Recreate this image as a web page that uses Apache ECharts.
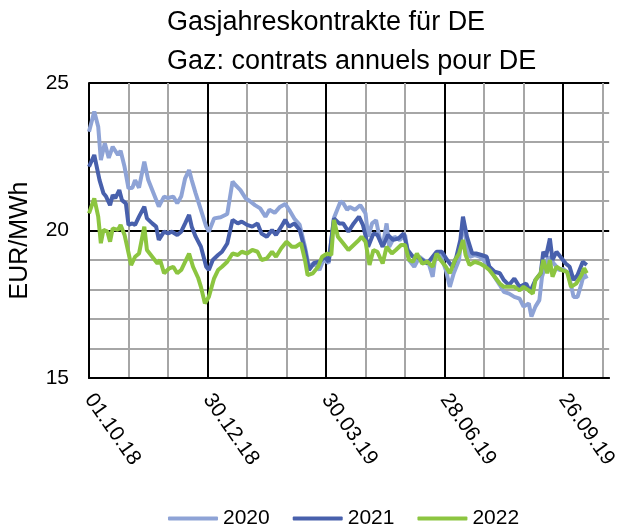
<!DOCTYPE html>
<html>
<head>
<meta charset="UTF-8">
<title>Gasjahreskontrakte für DE</title>
<script src="https://cdn.jsdelivr.net/npm/echarts@6/dist/echarts.min.js"></script>
</head>
<body style="margin:0">
<div id="main" style="width:620px;height:529px;"></div>
<script>
// Tage seit dem 01.10.18 / Preise in EUR/MWh
var days2020 = [0, 4, 7, 9, 12, 15, 18, 22, 24, 27, 30, 33, 35, 38, 42, 45, 49, 53, 57, 60, 64, 67, 70, 73, 76, 78, 81, 85, 89, 91, 95, 100, 105, 109, 111, 115, 119, 122, 126, 130, 134, 137, 141, 145, 149, 152, 156, 160, 164, 167, 171, 175, 178, 182, 186, 191, 193, 196, 198, 202, 206, 210, 212, 215, 218, 221, 223, 226, 228, 232, 236, 240, 243, 247, 251, 254, 258, 261, 263, 267, 271, 274, 277, 281, 284, 286, 289, 293, 297, 301, 304, 308, 312, 315, 319, 323, 327, 330, 334, 336, 339, 342, 344, 347, 349, 353, 357, 360, 364, 368, 371, 374, 376, 378];
var vals2020 = [23.35, 24.03, 23.52, 22.39, 22.96, 22.46, 22.84, 22.56, 22.7, 22.16, 21.43, 21.45, 21.71, 21.45, 22.33, 21.71, 21.26, 20.81, 21.15, 21.1, 21.15, 20.92, 21.15, 21.77, 22.05, 21.71, 21.26, 20.7, 20.13, 19.96, 20.41, 20.45, 20.56, 21.66, 21.55, 21.37, 21.09, 21.0, 20.86, 20.75, 20.47, 20.7, 20.6, 20.8, 20.9, 20.7, 20.4, 20.19, 19.45, 18.77, 18.9, 18.66, 19.0, 18.9, 20.42, 20.98, 20.93, 20.7, 20.8, 20.7, 20.86, 20.58, 19.79, 20.24, 20.35, 19.68, 19.45, 20.24, 19.45, 19.79, 19.68, 19.85, 19.0, 18.77, 19.11, 19.0, 18.88, 18.43, 19.11, 19.17, 18.66, 18.09, 18.55, 19.0, 20.36, 19.79, 19.11, 19.17, 19.11, 18.94, 18.77, 18.43, 18.15, 17.92, 17.86, 17.75, 17.69, 17.42, 17.53, 17.08, 17.42, 17.64, 18.43, 18.88, 19.11, 18.88, 18.66, 18.7, 18.55, 17.75, 17.75, 18.2, 18.55, 18.37];

var days2021 = [0, 4, 8, 11, 13, 16, 18, 20, 23, 25, 28, 30, 33, 35, 38, 42, 44, 48, 51, 53, 57, 60, 63, 67, 70, 73, 76, 78, 81, 85, 89, 91, 94, 98, 101, 105, 109, 113, 116, 120, 124, 128, 131, 135, 139, 142, 146, 149, 152, 156, 160, 164, 167, 171, 175, 179, 182, 186, 190, 193, 197, 201, 205, 208, 212, 216, 219, 223, 227, 231, 235, 239, 242, 246, 249, 253, 257, 261, 264, 268, 272, 276, 279, 282, 284, 287, 291, 294, 298, 302, 304, 308, 312, 315, 319, 323, 327, 332, 335, 339, 343, 345, 347, 350, 352, 355, 358, 362, 365, 368, 371, 375, 378];
var vals2021 = [22.16, 22.56, 21.71, 21.26, 21.15, 20.86, 21.2, 21.1, 21.37, 21.03, 20.92, 20.19, 20.24, 20.19, 20.47, 20.81, 20.41, 20.24, 20.13, 19.68, 19.96, 19.9, 19.96, 19.85, 19.96, 20.24, 20.53, 20.13, 19.79, 19.45, 18.77, 18.66, 19.0, 19.17, 19.28, 19.56, 20.36, 20.24, 20.3, 20.19, 20.13, 20.24, 19.9, 19.79, 20.02, 19.85, 20.13, 20.36, 20.13, 20.24, 20.02, 19.34, 18.66, 18.9, 18.94, 19.11, 18.94, 20.41, 20.24, 20.24, 19.96, 20.24, 20.47, 20.19, 19.45, 19.9, 19.85, 19.45, 19.85, 19.68, 19.73, 19.9, 19.34, 19.11, 19.11, 19.0, 18.88, 19.11, 19.28, 19.28, 19.0, 18.77, 19.11, 19.68, 20.47, 19.79, 19.22, 19.22, 19.17, 19.11, 18.77, 18.6, 18.55, 18.32, 18.15, 18.37, 18.09, 18.2, 17.92, 18.32, 18.55, 19.28, 19.11, 19.73, 19.0, 19.28, 19.11, 18.88, 18.77, 18.32, 18.49, 18.94, 18.83];

var days2022 = [0, 4, 7, 9, 11, 14, 16, 18, 22, 24, 27, 29, 32, 35, 38, 42, 44, 48, 52, 54, 57, 61, 64, 67, 70, 73, 76, 79, 83, 85, 88, 91, 95, 98, 101, 105, 109, 113, 116, 120, 124, 128, 131, 135, 139, 142, 146, 150, 154, 157, 161, 164, 166, 170, 174, 177, 181, 184, 186, 189, 193, 197, 201, 205, 207, 210, 213, 216, 219, 223, 226, 230, 233, 237, 240, 243, 246, 249, 253, 257, 261, 264, 267, 271, 274, 278, 281, 284, 286, 289, 293, 297, 301, 304, 308, 312, 315, 319, 323, 327, 330, 334, 337, 339, 343, 345, 348, 350, 352, 355, 359, 363, 366, 370, 374, 376, 378];
var vals2022 = [20.58, 21.09, 20.47, 19.57, 20.02, 19.96, 19.62, 20.07, 20.02, 20.19, 19.85, 19.45, 18.83, 19.11, 19.22, 20.13, 19.34, 19.11, 18.88, 19.0, 18.55, 18.72, 18.77, 18.55, 18.66, 18.94, 19.22, 18.77, 18.38, 18.09, 17.53, 17.75, 18.38, 18.66, 18.77, 18.94, 19.22, 19.17, 19.28, 19.22, 19.34, 19.28, 19.0, 19.05, 19.28, 19.11, 19.4, 19.62, 19.45, 19.45, 19.57, 19.0, 18.49, 18.55, 18.77, 19.11, 19.22, 19.17, 20.36, 19.79, 19.57, 19.34, 19.51, 19.68, 19.79, 19.62, 18.83, 19.34, 19.28, 18.88, 19.45, 19.22, 19.34, 19.51, 19.51, 19.0, 18.94, 19.22, 18.88, 18.94, 18.77, 19.22, 19.0, 18.77, 18.55, 19.0, 19.22, 19.68, 19.17, 18.83, 18.94, 18.88, 18.77, 18.66, 18.43, 18.2, 18.09, 18.09, 18.09, 17.97, 18.09, 17.97, 17.86, 18.32, 18.55, 19.0, 18.55, 19.0, 18.43, 18.77, 18.66, 18.6, 18.09, 18.2, 18.49, 18.72, 18.55];

var tickLabels = ['01.10.18', '30.12.18', '30.03.19', '28.06.19', '26.09.19'];
var seriesNames = ['2020', '2021', '2022'];
var colors = ['#8EA3D6', '#4860AC', '#8CC540'];

function pairs(d, v) {
    return d.map(function (x, i) { return [x, v[i]]; });
}

var myChart = echarts.init(document.getElementById('main'));
var font = 'Liberation Sans';

var option = {
    animation: false,
    textStyle: { fontFamily: font },
    color: colors,
    title: {
        text: 'Gasjahreskontrakte für DE\nGaz: contrats annuels pour DE',
        left: 162,
        top: -2,
        textStyle: { fontSize: 27, fontWeight: 'normal', color: '#000', lineHeight: 39, fontFamily: font }
    },
    legend: {
        left: 163,
        top: 503,
        icon: 'roundRect',
        itemWidth: 50,
        itemHeight: 4,
        itemGap: 23,
        textStyle: { fontSize: 21, color: '#000', fontFamily: font },
        data: seriesNames
    },
    grid: { left: 86, right: 5, top: 83, bottom: 151 },
    xAxis: [
        {
            type: 'value', min: 0, max: 395, interval: 30, position: 'bottom',
            axisLine: { show: false }, axisTick: { show: false }, axisLabel: { show: false },
            splitLine: { show: true, showMaxLine: false, lineStyle: { color: '#A6A6A6', width: 2 } }
        },
        {
            type: 'value', min: 0, max: 395, interval: 90, position: 'bottom',
            axisLine: { show: true, lineStyle: { color: '#000', width: 2 } },
            axisTick: { show: false },
            axisLabel: {
                rotate: -55, margin: 18, fontSize: 21, color: '#000', showMaxLabel: false,
                formatter: function (v) { return tickLabels[v / 90] || ''; }
            },
            splitLine: { show: true, showMaxLine: false, lineStyle: { color: '#000', width: 2 } }
        }
    ],
    yAxis: [
        {
            type: 'value', min: 15, max: 25, interval: 1, position: 'left',
            axisLine: { show: false }, axisTick: { show: false }, axisLabel: { show: false },
            splitLine: { show: true, lineStyle: { color: '#A6A6A6', width: 2 } }
        },
        {
            type: 'value', min: 15, max: 25, interval: 5, position: 'left',
            name: 'EUR/MWh', nameLocation: 'middle', nameGap: 56, nameRotate: 90,
            nameTextStyle: { fontSize: 25, color: '#000', fontFamily: font, padding: [0, 20, 0, 0] },
            axisLine: { show: true, lineStyle: { color: '#000', width: 2 } },
            axisTick: { show: false },
            axisLabel: { fontSize: 21, color: '#000', margin: 20 },
            splitLine: { show: true, lineStyle: { color: '#000', width: 2 } }
        }
    ],
    series: [
        { name: '2020', type: 'line', xAxisIndex: 1, yAxisIndex: 1, symbol: 'none', lineStyle: { width: 4 }, data: pairs(days2020, vals2020) },
        { name: '2021', type: 'line', xAxisIndex: 1, yAxisIndex: 1, symbol: 'none', lineStyle: { width: 4 }, data: pairs(days2021, vals2021) },
        { name: '2022', type: 'line', xAxisIndex: 1, yAxisIndex: 1, symbol: 'none', lineStyle: { width: 4 }, data: pairs(days2022, vals2022) }
    ]
};

myChart.setOption(option);
</script>
</body>
</html>
